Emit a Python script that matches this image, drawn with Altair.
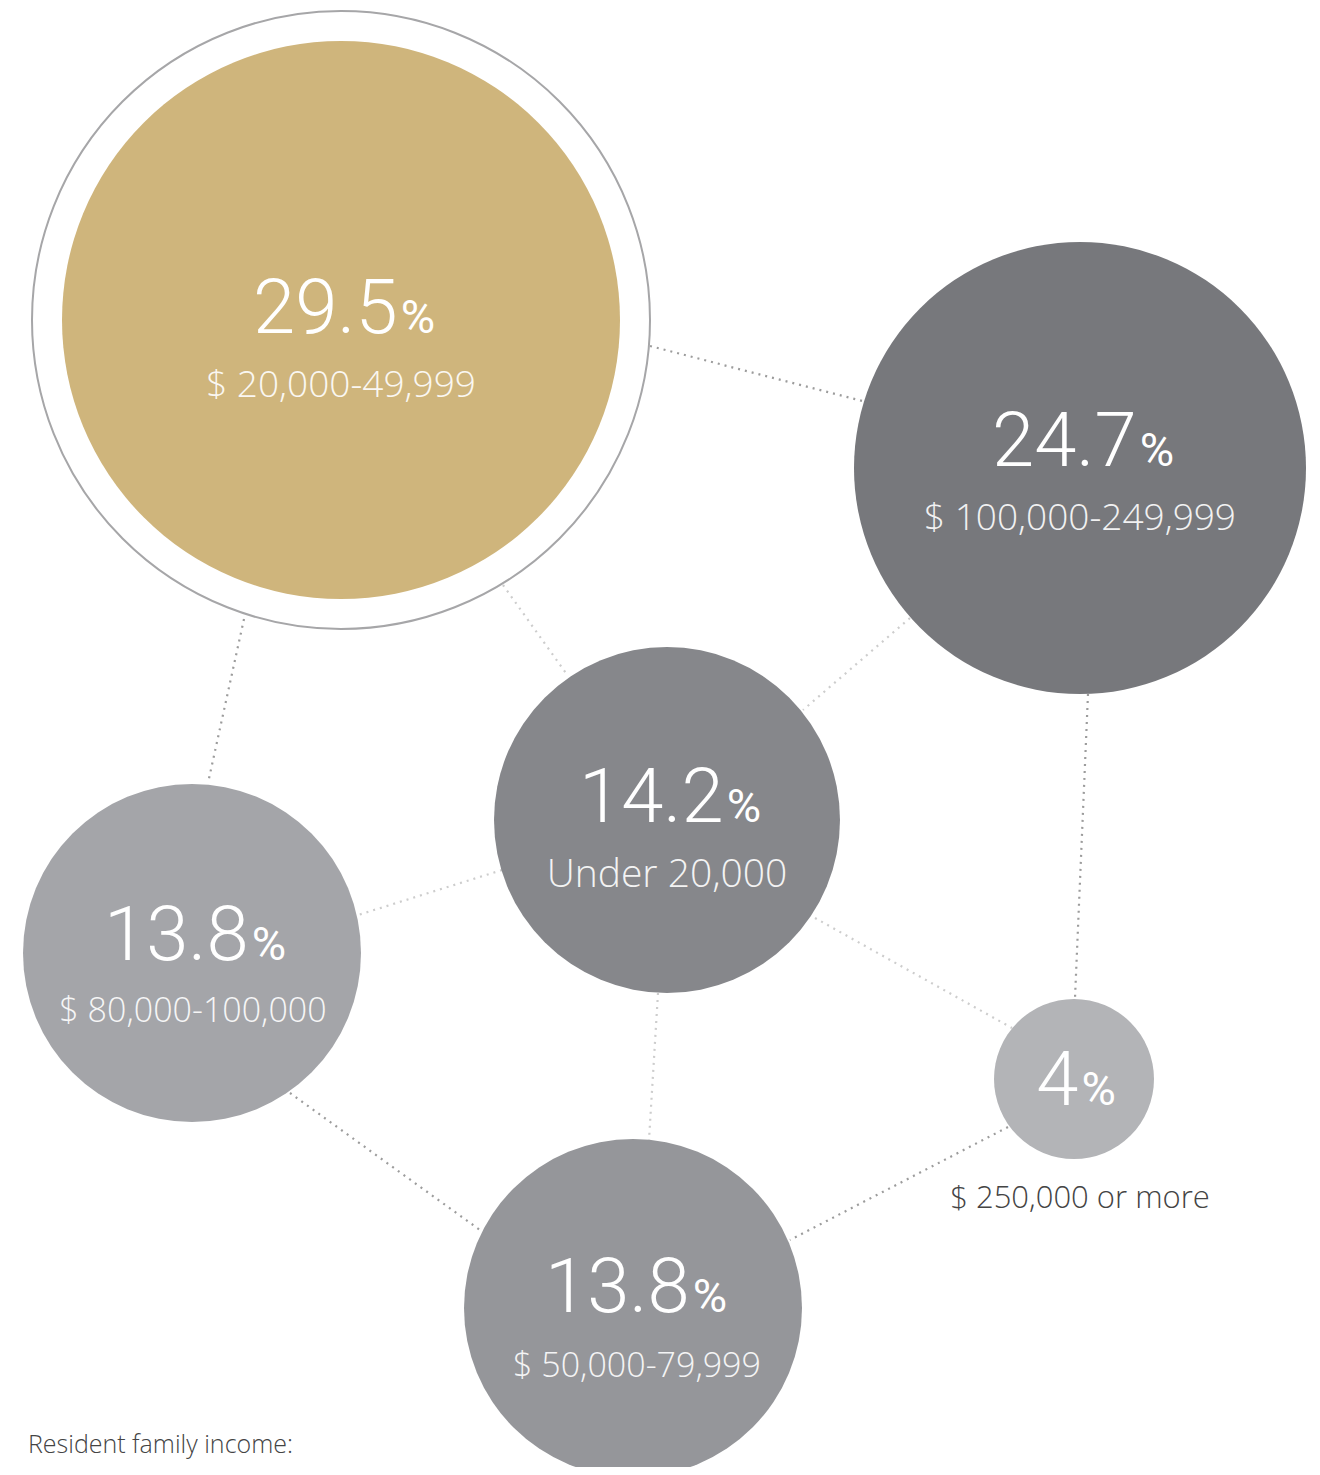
import altair as alt
import pandas as pd

# ---------------- data ----------------
pct_values = [29.5, 24.7, 14.2, 13.8, 13.8, 4]
pct_labels = ["29.5", "24.7", "14.2", "13.8", "13.8", "4"]
income_brackets = ["$ 20,000-49,999", "$ 100,000-249,999", "Under 20,000",
                   "$ 80,000-100,000", "$ 50,000-79,999", "$ 250,000 or more"]
bubble_ids = ["b1", "b2", "b3", "b4", "b5", "b6"]
footer_text = ["Resident family income:"]

# ---------------- layout (page pixel space) ----------------
layout_cx = [341, 1080, 667, 192, 633, 1074]
layout_cy = [320, 468, 820, 953, 1308, 1079]
layout_num_y = [333, 466, 822, 960, 1312, 1105]
layout_sub_y = [397, 530, 887, 1022, 1377, 1208]
layout_sub_x = [341, 1080, 667, 193, 637, 1080]

edge_x1 = [650, 503, 244, 910, 1088, 502, 815, 658, 290, 1008]
edge_y1 = [346, 585, 619, 618, 694, 870, 918, 993, 1093, 1127]
edge_x2 = [870, 568, 208, 803, 1075, 358, 1012, 649, 480, 790]
edge_y2 = [403, 676, 783, 710, 998, 915, 1028, 1140, 1230, 1240]
edge_tone = ["dark", "light", "dark", "light", "dark", "light", "light", "light", "dark", "dark"]

footer_x = [28]
footer_y = [1453]

# ---------------- styles ----------------
bubble_colors = ["#CFB57C", "#77787C", "#86878B", "#A4A5A9", "#95969A", "#B3B4B7"]
size_domain = [4, 13.8, 14.2, 24.7, 29.5]
radius_px = [80, 169, 173, 226, 279]
sub_font_px = [31, 34, 39, 37, 37]
ring_radius = 309
NUM_FONT = 76
PCT_FONT = 47
DIG_W = 0.562 * NUM_FONT
DOT_W = 0.25 * NUM_FONT
PCT_W = 0.72 * PCT_FONT

bubbles = pd.DataFrame({
    "id": bubble_ids, "pct": pct_values, "num": pct_labels, "label": income_brackets,
    "cx": layout_cx, "cy": layout_cy, "ny": layout_num_y, "sy": layout_sub_y, "sx": layout_sub_x,
})
edges = pd.DataFrame({"x1": edge_x1, "y1": edge_y1, "x2": edge_x2, "y2": edge_y2, "tone": edge_tone})
footer = pd.DataFrame({"text": footer_text, "x": footer_x, "y": footer_y})

W, H = 1304, 1459
xs = alt.Scale(domain=[8, 8 + W], nice=False, zero=False)
ys = alt.Scale(domain=[8, 8 + H], nice=False, zero=False, reverse=True)


def X(f):
    return alt.X(f, type="quantitative", scale=xs, axis=None)


def Y(f):
    return alt.Y(f, type="quantitative", scale=ys, axis=None)


rules = alt.Chart(edges).mark_rule(strokeDash=[2, 5], strokeWidth=2.2, strokeCap="butt").encode(
    x=X("x1"), y=Y("y1"), x2="x2:Q", y2="y2:Q",
    stroke=alt.Stroke("tone:N", scale=alt.Scale(domain=["dark", "light"], range=["#9C9C9C", "#CDCDCD"]), legend=None),
)

ring = alt.Chart(bubbles).transform_filter("datum.pct == 29.5").mark_point(
    shape="circle", filled=False, stroke="#A6A6A8", strokeWidth=2, opacity=1
).encode(x=X("cx"), y=Y("cy"), size=alt.value(4 * ring_radius ** 2))

circles = alt.Chart(bubbles).mark_circle(opacity=1, strokeWidth=0).encode(
    x=X("cx"), y=Y("cy"),
    fill=alt.Fill("id:N", scale=alt.Scale(domain=bubble_ids, range=bubble_colors), legend=None),
    size=alt.Size("pct:Q", scale=alt.Scale(domain=size_domain, range=[4 * r * r for r in radius_px]), legend=None),
)

split = alt.Chart(bubbles).transform_calculate(
    nd="length(replace(datum.num, '.', ''))"
).transform_calculate(
    wn=f"datum.nd * {DIG_W} + (length(datum.num) - datum.nd) * {DOT_W}"
).transform_calculate(
    xs=f"datum.cx + (datum.wn - {PCT_W}) / 2"
)

nums = split.mark_text(align="right", baseline="alphabetic", font="Roboto", fontWeight=300,
                       fontSize=NUM_FONT, color="white").encode(x=X("xs"), y=Y("ny"), text="num:N")
pcts = split.mark_text(align="left", baseline="alphabetic", font="Roboto", fontWeight=400,
                       fontSize=PCT_FONT, color="white", dx=3).encode(x=X("xs"), y=Y("ny"), text=alt.value("%"))

subs_in = alt.Chart(bubbles).transform_filter("datum.pct >= 5").mark_text(
    align="center", baseline="alphabetic", font="Open Sans", fontWeight=300,
    color="white", opacity=0.9).encode(
    x=X("sx"), y=Y("sy"), text="label:N",
    size=alt.Size("pct:Q", scale=alt.Scale(domain=size_domain, range=sub_font_px), legend=None))
subs_out = alt.Chart(bubbles).transform_filter("datum.pct < 5").mark_text(
    align="center", baseline="alphabetic", font="Open Sans", fontWeight=300,
    color="#444444").encode(
    x=X("sx"), y=Y("sy"), text="label:N",
    size=alt.Size("pct:Q", scale=alt.Scale(domain=size_domain, range=sub_font_px), legend=None))

foot = alt.Chart(footer).mark_text(align="left", baseline="alphabetic", font="Open Sans", fontWeight=300,
                                   fontSize=25, color="#444444").encode(x=X("x"), y=Y("y"), text="text:N")

base = alt.layer(rules, ring, circles).resolve_scale(size="independent")
texts = alt.layer(nums, pcts, subs_in, subs_out, foot)

chart = alt.layer(base, texts).resolve_scale(size="independent").properties(
    width=W, height=H, autosize=alt.AutoSizeParams(type="none"), padding=0, background="white"
).configure_view(stroke=None)

chart.save("out.html", embed_options={"renderer": "svg", "actions": False})
